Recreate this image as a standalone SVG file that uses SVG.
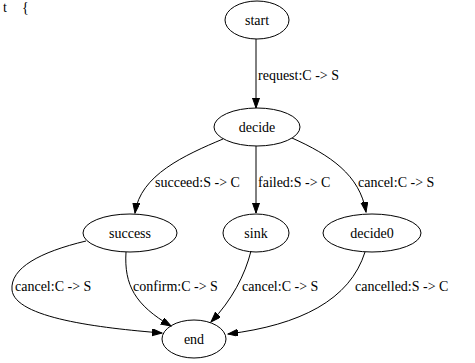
<svg xmlns="http://www.w3.org/2000/svg" width="475" height="363" viewBox="0 0 475 363">
<defs>
<style>
text{font-family:"Liberation Serif","Times New Roman",serif;font-size:14px;fill:#000}
.n ellipse{fill:none;stroke:#000;stroke-width:1}
.n text{text-anchor:middle}
.e path{fill:none;stroke:#000;stroke-width:1}
</style>
<marker id="ah" markerUnits="userSpaceOnUse" markerWidth="11" markerHeight="8" refX="10" refY="3.5" orient="auto">
<path d="M0,0 L10,3.5 L0,7 z" fill="#000" stroke="#000" stroke-width="1"/>
</marker>
</defs>
<rect width="475" height="363" fill="#fff"/>
<text x="3" y="12">t</text><text x="22" y="12">{</text>
<g id="edges" class="e">
<path d="M256,39 L256,108" marker-end="url(#ah)"/>
<path d="M223,139 C185,155 140,175 135,213" marker-end="url(#ah)"/>
<path d="M256,146 L256,213" marker-end="url(#ah)"/>
<path d="M292,138 C330,155 360,175 366,212" marker-end="url(#ah)"/>
<path d="M86,241 C40,252 10,268 12,290 C15,318 100,328 162,333" marker-end="url(#ah)"/>
<path d="M126,252 C124,285 135,305 171,326" marker-end="url(#ah)"/>
<path d="M251,251 C245,275 232,300 211,322" marker-end="url(#ah)"/>
<path d="M365,252 C350,300 300,325 228,334" marker-end="url(#ah)"/>
<text x="258" y="80">request:C -&gt; S</text>
<text x="155" y="187">succeed:S -&gt; C</text>
<text x="258" y="187">failed:S -&gt; C</text>
<text x="358" y="187">cancel:C -&gt; S</text>
<text x="15" y="291">cancel:C -&gt; S</text>
<text x="133" y="291">confirm:C -&gt; S</text>
<text x="242" y="291">cancel:C -&gt; S</text>
<text x="355" y="291">cancelled:S -&gt; C</text>
</g>
<g id="start" class="n"><ellipse cx="257" cy="20" rx="32" ry="19"/><text x="257" y="25">start</text></g>
<g id="decide" class="n"><ellipse cx="257" cy="127" rx="43" ry="19"/><text x="257" y="132">decide</text></g>
<g id="success" class="n"><ellipse cx="130" cy="233" rx="47" ry="19"/><text x="130" y="238">success</text></g>
<g id="sink" class="n"><ellipse cx="256" cy="233" rx="33" ry="19"/><text x="256" y="238">sink</text></g>
<g id="decide0" class="n"><ellipse cx="372" cy="233" rx="49" ry="19"/><text x="372" y="238">decide0</text></g>
<g id="end" class="n"><ellipse cx="194" cy="339" rx="32" ry="19"/><text x="194" y="344">end</text></g>
</svg>
